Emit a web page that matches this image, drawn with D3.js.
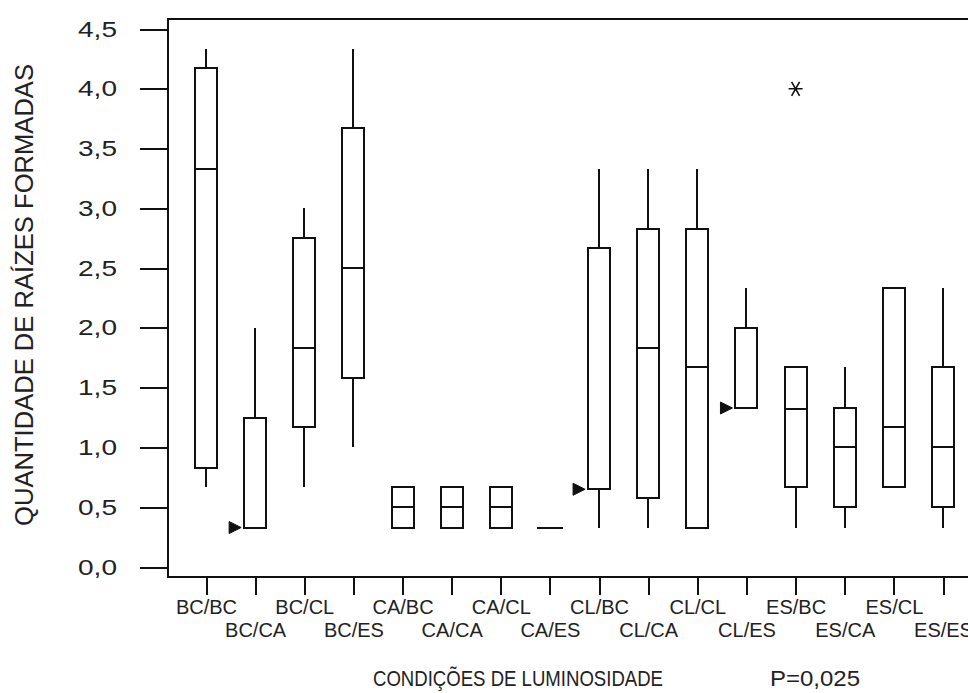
<!DOCTYPE html>
<html>
<head>
<meta charset="utf-8">
<script src="https://cdn.jsdelivr.net/npm/d3@7"></script>
<style>
  html, body { margin: 0; padding: 0; background: #fff; }
  svg { display: block; }
  text { font-family: "Liberation Sans", Arial, sans-serif; fill: #222; }
</style>
</head>
<body>
<script>
// Light-condition groups (first/second phase)
const categories = ["BC/BC", "BC/CA", "BC/CL", "BC/ES",
                    "CA/BC", "CA/CA", "CA/CL", "CA/ES",
                    "CL/BC", "CL/CA", "CL/CL", "CL/ES",
                    "ES/BC", "ES/CA", "ES/CL", "ES/ES"];

// Five-number summaries of roots formed per group
const whiskerLow  = [0.67, 0.33, 0.67, 1.00, 0.33, 0.33, 0.33, 0.33, 0.33, 0.33, 0.33, 1.33, 0.33, 0.33, 0.67, 0.33];
const quartile1   = [0.83, 0.33, 1.17, 1.58, 0.33, 0.33, 0.33, 0.33, 0.65, 0.58, 0.33, 1.33, 0.67, 0.50, 0.67, 0.50];
const medians     = [3.33, 0.33, 1.83, 2.50, 0.50, 0.50, 0.50, 0.33, 0.65, 1.83, 1.67, 1.33, 1.32, 1.00, 1.17, 1.00];
const quartile3   = [4.17, 1.25, 2.75, 3.67, 0.67, 0.67, 0.67, 0.33, 2.67, 2.83, 2.83, 2.00, 1.67, 1.33, 2.33, 1.67];
const whiskerHigh = [4.33, 2.00, 3.00, 4.33, 0.67, 0.67, 0.67, 0.33, 3.33, 3.33, 3.33, 2.33, 1.67, 1.67, 2.33, 2.33];

// Outlying observations
const outlierCategories = ["ES/BC"];
const outlierValues     = [4.0];

const yTickValues = [0, 0.5, 1, 1.5, 2, 2.5, 3, 3.5, 4, 4.5];

const yTitle = "QUANTIDADE DE RAÍZES FORMADAS";
const xTitle = "CONDIÇÕES DE LUMINOSIDADE";
const pLabel = "P=0,025";

const W = 968, H = 693;
const frame = { left: 168, top: 19, bottom: 577, right: 990 };
const ink = "#111";

const svg = d3.select("body").append("svg")
  .attr("width", W).attr("height", H);

const y = d3.scaleLinear().domain([0, 4.5]).range([567, 29]);
const x = d3.scalePoint().domain(categories).range([206, 943]);

const ptBR = d3.formatLocale({ decimal: ",", thousands: ".", grouping: [3], currency: ["R$", ""] });
const fmt = ptBR.format(".1f");

// Plot frame
svg.append("rect")
  .attr("x", frame.left).attr("y", frame.top)
  .attr("width", frame.right - frame.left)
  .attr("height", frame.bottom - frame.top)
  .attr("fill", "none").attr("stroke", ink).attr("stroke-width", 2)
  .attr("shape-rendering", "crispEdges");

// Y axis
const gy = svg.append("g")
  .attr("transform", `translate(${frame.left},0)`)
  .call(d3.axisLeft(y).tickValues(yTickValues).tickFormat(fmt)
    .tickSize(28).tickPadding(23).tickSizeOuter(0));
gy.select(".domain").remove();
gy.selectAll(".tick line").attr("stroke", ink).attr("stroke-width", 2)
  .attr("shape-rendering", "crispEdges");
gy.selectAll(".tick text")
  .attr("font-size", 22)
  .attr("fill", "#222")
  .attr("textLength", 39).attr("lengthAdjust", "spacingAndGlyphs")
  .style("font-family", "'Liberation Sans', Arial, sans-serif");

// X axis with staggered labels
const gx = svg.append("g")
  .attr("transform", `translate(0,${frame.bottom})`)
  .call(d3.axisBottom(x).tickSize(18).tickSizeOuter(0));
gx.select(".domain").remove();
gx.selectAll(".tick line").attr("stroke", ink).attr("stroke-width", 2)
  .attr("shape-rendering", "crispEdges");
gx.selectAll(".tick text")
  .attr("font-size", 20)
  .attr("fill", "#222")
  .attr("dy", null)
  .attr("y", (d, i) => i % 2 === 0 ? 37 : 60)
  .style("font-family", "'Liberation Sans', Arial, sans-serif");

// Boxes and whiskers
const boxW = 22;
const rows = categories.map((c, i) => ({
  c, lo: whiskerLow[i], q1: quartile1[i], med: medians[i], q3: quartile3[i], hi: whiskerHigh[i]
}));

const gb = svg.append("g")
  .attr("stroke", ink).attr("stroke-width", 2).attr("fill", "none")
  .attr("shape-rendering", "crispEdges");

rows.forEach(r => {
  const cx = x(r.c);
  if (r.hi > r.q3) {
    gb.append("line").attr("x1", cx).attr("x2", cx).attr("y1", y(r.hi)).attr("y2", y(r.q3));
  }
  if (r.lo < r.q1) {
    gb.append("line").attr("x1", cx).attr("x2", cx).attr("y1", y(r.q1)).attr("y2", y(r.lo));
  }
  if (r.q3 > r.q1) {
    gb.append("rect")
      .attr("x", cx - boxW / 2).attr("width", boxW)
      .attr("y", y(r.q3)).attr("height", y(r.q1) - y(r.q3));
    gb.append("line")
      .attr("x1", cx - boxW / 2).attr("x2", cx + boxW / 2)
      .attr("y1", y(r.med)).attr("y2", y(r.med));
  } else {
    gb.append("line")
      .attr("x1", cx - boxW / 2 - 2).attr("x2", cx + boxW / 2 + 2)
      .attr("y1", y(r.q1)).attr("y2", y(r.q1));
  }
});

// Solid arrow pointing at a median that sits on the lower quartile
rows.filter(r => r.q3 > r.q1 && r.med === r.q1).forEach(r => {
  const tipX = x(r.c) - boxW / 2 - 3;
  const ym = y(r.med);
  const p = d3.path();
  p.moveTo(tipX, ym);
  p.lineTo(tipX - 12, ym - 6);
  p.lineTo(tipX - 12, ym + 6);
  p.closePath();
  svg.append("path").attr("d", p.toString()).attr("fill", ink).attr("stroke", ink).attr("stroke-width", 1);
});

// Outliers drawn as asterisks
outlierCategories.forEach((c, i) => {
  const cx = x(c), cy = y(outlierValues[i]);
  const p = d3.path();
  p.moveTo(cx - 7, cy); p.lineTo(cx + 7, cy);
  p.moveTo(cx - 4, cy - 7); p.lineTo(cx + 4, cy + 7);
  p.moveTo(cx + 4, cy - 7); p.lineTo(cx - 4, cy + 7);
  svg.append("path").attr("d", p.toString())
    .attr("stroke", ink).attr("stroke-width", 1.6).attr("fill", "none");
});

// Axis titles
svg.append("text")
  .attr("transform", "translate(33,295) rotate(-90)")
  .attr("text-anchor", "middle")
  .attr("font-size", 25)
  .attr("textLength", 462).attr("lengthAdjust", "spacingAndGlyphs")
  .text(yTitle);

svg.append("text")
  .attr("x", 373).attr("y", 686)
  .attr("font-size", 22)
  .attr("textLength", 290).attr("lengthAdjust", "spacingAndGlyphs")
  .text(xTitle);

svg.append("text")
  .attr("x", 770).attr("y", 686)
  .attr("font-size", 22)
  .attr("textLength", 90).attr("lengthAdjust", "spacingAndGlyphs")
  .text(pLabel);
</script>
</body>
</html>
